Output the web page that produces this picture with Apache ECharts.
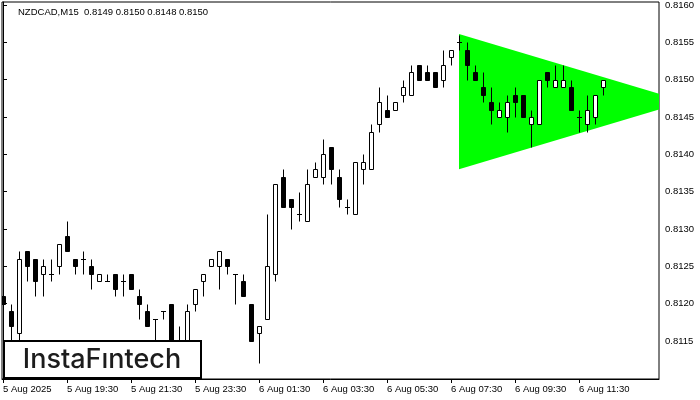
<!DOCTYPE html>
<html><head><meta charset="utf-8">
<script src="https://cdn.jsdelivr.net/npm/echarts@6/dist/echarts.min.js"></script>
<style>html,body{margin:0;padding:0;background:#fff}#c{width:700px;height:400px}</style>
</head><body><div id="c"></div>
<script>
const chartTitle = 'NZDCAD,M15  0.8149 0.8150 0.8148 0.8150';
const logoText = 'InstaFıntech';
const timeLabels = ['5 Aug 2025','5 Aug 19:30','5 Aug 21:30','5 Aug 23:30','6 Aug 01:30','6 Aug 03:30','6 Aug 05:30','6 Aug 07:30','6 Aug 09:30','6 Aug 11:30'];
const labelBars = [0,8,16,24,32,40,48,56,64,72];
const priceTicks = [0.8115,0.8120,0.8125,0.8130,0.8135,0.8140,0.8145,0.8150,0.8155,0.8160];
const opens  = [0.8121,0.8119,0.8116,0.8127,0.8126,0.8124,0.8124,0.8125,0.8129,0.8126,0.8126,0.8125,0.8123,0.8123,0.8124,0.8123,0.8124,0.8121,0.8119,0.8118,0.8119,0.8120,0.8113,0.8115,0.8120,0.8123,0.8125,0.8125,0.8126,0.8124,0.8123,0.8120,0.8116,0.8118,0.8124,0.8137,0.8134,0.8132,0.8131,0.8137,0.8137,0.8141,0.8137,0.8133,0.8132,0.8138,0.8138,0.8144,0.8146,0.8146,0.8148,0.8148,0.8152,0.8151,0.8151,0.8150,0.8153,0.8155,0.8154,0.8151,0.8149,0.8147,0.8145,0.8145,0.8148,0.8148,0.8144,0.8144,0.8151,0.8149,0.8149,0.8149,0.8145,0.8144,0.8145,0.8149];
const highs  = [0.8122,0.8120,0.8127,0.8127,0.8126,0.8126,0.8126,0.8128,0.8131,0.8126,0.8127,0.8126,0.8124,0.8124,0.8124,0.8124,0.8124,0.8122,0.8120,0.8118,0.8119,0.8120,0.8117,0.8120,0.8122,0.8124,0.8126,0.8127,0.8126,0.8124,0.8124,0.8120,0.8117,0.8132,0.8136,0.8138,0.8134,0.8135,0.8138,0.8139,0.8142,0.8141,0.8138,0.8134,0.8139,0.8140,0.8144,0.8149,0.8148,0.8147,0.8150,0.8152,0.8152,0.8152,0.8151,0.8154,0.8154,0.8156,0.8155,0.8152,0.8151,0.8149,0.8147,0.8148,0.8149,0.8148,0.8146,0.8150,0.8151,0.8152,0.8152,0.8150,0.8146,0.8148,0.8148,0.8150];
const lows   = [0.8116,0.8114,0.8115,0.8123,0.8121,0.8121,0.8123,0.8124,0.8127,0.8124,0.8124,0.8122,0.8123,0.8123,0.8121,0.8121,0.8122,0.8118,0.8117,0.8115,0.8118,0.8112,0.8112,0.8114,0.8119,0.8121,0.8125,0.8122,0.8124,0.8120,0.8121,0.8115,0.8112,0.8118,0.8123,0.8133,0.8130,0.8131,0.8131,0.8137,0.8136,0.8136,0.8133,0.8132,0.8132,0.8136,0.8138,0.8143,0.8145,0.8146,0.8147,0.8148,0.8150,0.8150,0.8149,0.8149,0.8152,0.8154,0.8150,0.8150,0.8147,0.8144,0.8145,0.8143,0.8145,0.8145,0.8141,0.8144,0.8149,0.8149,0.8149,0.8146,0.8143,0.8143,0.8144,0.8148];
const closes = [0.8120,0.8117,0.8126,0.8125,0.8123,0.8125,0.8124,0.8128,0.8127,0.8125,0.8126,0.8124,0.8124,0.8123,0.8122,0.8123,0.8122,0.8120,0.8117,0.8118,0.8119,0.8113,0.8114,0.8119,0.8122,0.8124,0.8126,0.8127,0.8125,0.8124,0.8121,0.8115,0.8117,0.8125,0.8136,0.8133,0.8133,0.8132,0.8136,0.8138,0.8140,0.8138,0.8134,0.8133,0.8139,0.8139,0.8143,0.8147,0.8145,0.8147,0.8149,0.8151,0.8150,0.8150,0.8149,0.8152,0.8154,0.8155,0.8152,0.8150,0.8148,0.8146,0.8146,0.8147,0.8147,0.8145,0.8145,0.8150,0.8150,0.8150,0.8150,0.8146,0.8145,0.8146,0.8148,0.8150];
const currentPrice = 0.8150;
// triangle pattern vertices [bar index, price]
const triangleBars   = [57, 82, 82, 57];
const trianglePrices = [0.81561, 0.81481, 0.81460, 0.81380];

const candleData = opens.map((o, i) => [i, o, highs[i], lows[i], closes[i]]);
const FONT = 'Liberation Sans';

const chart = echarts.init(document.getElementById('c'), null, {renderer: 'canvas'});

function renderCandle(params, api) {
  const i = api.value(0), o = api.value(1), h = api.value(2), l = api.value(3), c = api.value(4);
  const pO = api.coord([i, o]), pC = api.coord([i, c]), pH = api.coord([i, h]), pL = api.coord([i, l]);
  const x = Math.round(pO[0]) + 0.5;
  const top = Math.round(Math.min(pO[1], pC[1])) + 0.5;
  const bot = Math.round(Math.max(pO[1], pC[1])) + 0.5;
  const yH = Math.round(pH[1]) + 0.5, yL = Math.round(pL[1]) + 0.5;
  const bull = c >= o;
  const children = [
    {type: 'line', shape: {x1: x, y1: yH, x2: x, y2: yL}, style: {stroke: '#000', lineWidth: 1}}
  ];
  if (bot - top < 1) {
    children.push({type: 'line', shape: {x1: x - 2.5, y1: top, x2: x + 2.5, y2: top}, style: {stroke: '#000', lineWidth: 1}});
  } else {
    children.push({type: 'rect', shape: {x: x - 2, y: top, width: 4, height: bot - top},
      style: {fill: bull ? '#fff' : '#000', stroke: '#000', lineWidth: 1}});
  }
  return {type: 'group', children};
}

function renderTriangle(params, api) {
  const pts = triangleBars.map((b, k) => api.coord([b, trianglePrices[k]]));
  return {type: 'polygon', shape: {points: pts}, style: {fill: '#00ff00', stroke: null}};
}

chart.setOption({
  animation: false,
  backgroundColor: '#fff',
  grid: {left: 2, right: 41, top: 2, bottom: 21, show: true, borderColor: '#000', borderWidth: 1, backgroundColor: 'transparent'},
  xAxis: {
    type: 'value', min: -0.125, max: 82,
    splitLine: {show: false},
    axisLine: {show: true, lineStyle: {color: '#000', width: 1}},
    axisTick: {show: true, length: 4, lineStyle: {color: '#000'}, customValues: labelBars},
    axisLabel: {
      customValues: labelBars, color: '#000', fontFamily: FONT, fontSize: 9.5, align: 'left', margin: 5,
      formatter: v => { const k = labelBars.indexOf(Math.round(v)); return k >= 0 ? timeLabels[k] : ''; }
    }
  },
  yAxis: {
    type: 'value', position: 'right', min: 0.81099, max: 0.81604, scale: true,
    splitLine: {show: false},
    axisLine: {show: true, lineStyle: {color: '#000', width: 1}},
    axisTick: {show: true, length: 4, lineStyle: {color: '#000'}, customValues: priceTicks},
    axisLabel: {customValues: priceTicks, color: '#000', fontFamily: FONT, fontSize: 9.5, margin: 6,
      formatter: v => v.toFixed(4)}
  },
  series: [
    {type: 'custom', name: 'pattern', z: 1, clip: true, renderItem: renderTriangle,
      data: [[triangleBars[0], trianglePrices[0]]], encode: {x: 0, y: 1}, silent: true},
    {type: 'custom', name: 'NZDCAD', z: 2, clip: true, renderItem: renderCandle,
      data: candleData, encode: {x: 0, y: [1, 2, 3, 4]},
      markLine: {
        silent: true, symbol: ['none', 'none'], animation: false,
        lineStyle: {color: '#000', width: 1, type: 'solid'},
        label: {show: true, position: 'end', distance: 2, formatter: () => currentPrice.toFixed(4),
          color: '#fff', backgroundColor: '#000', padding: [2, 6, 1, 4], fontFamily: FONT, fontSize: 9.5},
        data: [{yAxis: currentPrice}]
      }}
  ],
  graphic: [
    {type: 'text', left: 18, top: 7, z: 100,
      style: {text: chartTitle, fill: '#000', font: '9.5px "Liberation Sans"'}},
    {type: 'rect', left: 3, top: 340, z: 100, shape: {x: 0, y: 0, width: 197, height: 37},
      style: {fill: '#fff', stroke: '#000', lineWidth: 2}},
    {type: 'text', x: 102, y: 360, z: 101,
      style: {text: logoText, fill: '#1c1c1c', font: '500 27px Inter', align: 'center', verticalAlign: 'middle'}}
  ]
});
</script></body></html>
